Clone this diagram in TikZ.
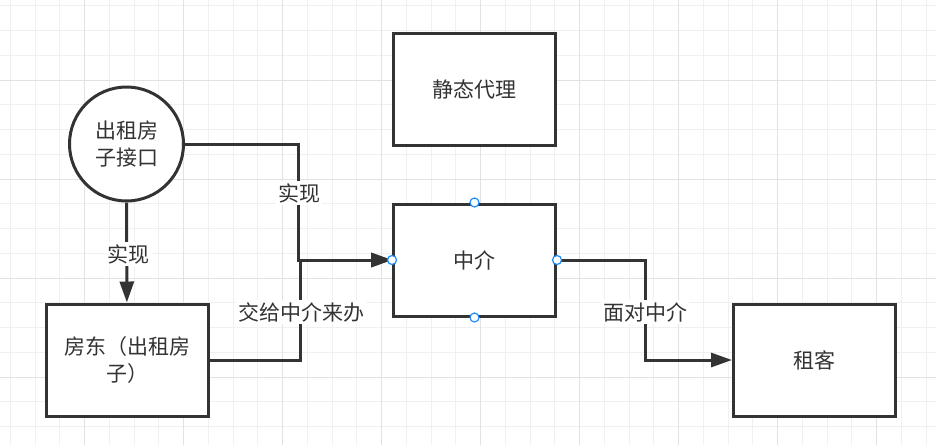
\documentclass[tikz,border=0pt]{standalone}
\usepackage{fontspec}
\setmainfont{Noto Sans CJK SC}
\usetikzlibrary{arrows.meta}
\definecolor{ink}{HTML}{333333}
\definecolor{gridminor}{HTML}{F0F0F0}
\definecolor{gridmajor}{HTML}{E2E2E2}
\definecolor{portblue}{HTML}{1A8CFF}
\tikzset{
  minorline/.style={gridminor, line width=1pt},
  majorline/.style={gridmajor, line width=1pt},
  txt/.style={font=\fontsize{21}{27}\selectfont, text=ink, align=center},
  box/.style={txt, draw=ink, line width=3pt, fill=white, rectangle,
    minimum width=162pt, minimum height=112pt, inner sep=0pt},
  circ/.style={txt, draw=ink, line width=3pt, fill=white, circle,
    minimum size=114pt, inner sep=0pt},
  conn/.style={draw=ink, line width=3pt, line join=miter,
    -{Triangle[length=21pt, width=14pt]}},
  lbl/.style={txt, fill=white, inner sep=2pt},
  port/.style={circle, draw=portblue, fill=white, line width=1.2pt,
    minimum size=9pt, inner sep=0pt}
}
\begin{document}
\begin{tikzpicture}[x=1pt, y=-1pt]
\useasboundingbox (0,0) rectangle (936,445);
\fill[white] (0,0) rectangle (936,445);
% grid
\foreach \i in {0,...,37} {
  \draw[minorline] ({10.25+24.75*\i},0) -- ({10.25+24.75*\i},445);
}
\foreach \j in {0,...,17} {
  \draw[minorline] (0,{5.75+24.75*\j}) -- (936,{5.75+24.75*\j});
}
\foreach \i in {0,...,8} {
  \draw[majorline] ({84.5+99*\i},0) -- ({84.5+99*\i},445);
}
\foreach \j in {0,...,3} {
  \draw[majorline] (0,{80+99*\j}) -- (936,{80+99*\j});
}
% nodes
\node[circ] (iface) at (126.5,144) {出租房\\子接口};
\node[box] (jt) at (474.5,89.5) {静态代理};
\node[box] (zj) at (474.5,260) {中介};
\node[box, text width=140pt] (fd) at (127,360) {房东（出租房\\子）};
\node[box] (zk) at (814.5,360) {租客};
% bends
\coordinate (b1) at (298.5,144);
\coordinate (b2) at (300.5,360);
\coordinate (b3) at (645,260);
% connectors
\draw[conn] (iface) -- (fd);
\draw[conn] (iface) -- (b1) |- (zj.west);
\draw[conn] (fd.east) -- (b2) |- (zj.west);
\draw[conn] (zj.east) -- (b3) |- (zk.west);
% labels
\node[lbl] (l1) at (299,193) {实现};
\node[lbl] (l2) at (128,254) {实现};
\node[lbl] (l3) at (301,312) {交给中介来办};
\node[lbl] (l4) at (645,312) {面对中介};
% ports
\node[port] (pn) at (zj.north) {};
\node[port] (ps) at (zj.south) {};
\node[port] (pe) at (zj.east) {};
\node[port] (pw) at (zj.west) {};
\end{tikzpicture}
\end{document}
